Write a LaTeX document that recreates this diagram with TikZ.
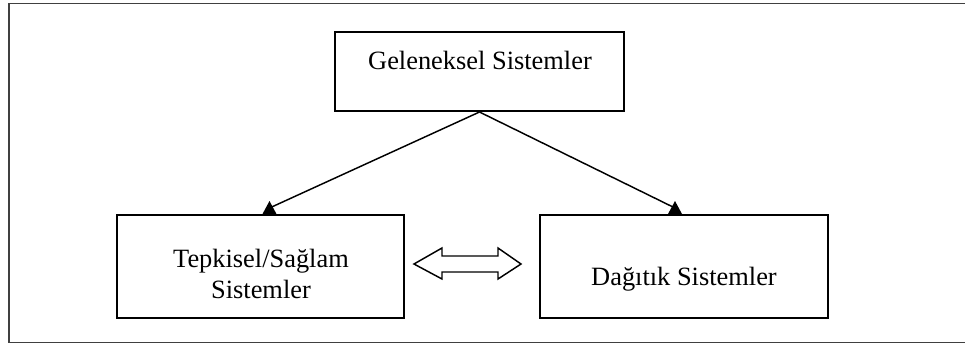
\documentclass[tikz,border=0pt]{standalone}
\usepackage{fontspec}
\setmainfont{Liberation Serif}
\usetikzlibrary{calc}
\begin{document}
\begin{tikzpicture}[x=0.75pt,y=-0.75pt,
  frame/.style={draw=black!75,line width=1.4pt},
  box/.style={draw=black,line width=1.5pt,rectangle,inner sep=0pt},
  lbl/.style={font=\fontsize{19.8}{23.25}\selectfont,inner sep=0pt,align=center},
  link/.style={draw=black,line width=1.1pt},
  head/.style={fill=black},
  twoway/.style={draw=black,line width=1.1pt,fill=white,line join=miter}]
\useasboundingbox (0,0) rectangle (965,344);
% outer frame (right side runs past the page edge)
\draw[frame] (9,3.5) rectangle (970,342.5);

% the three boxes
\node[box,minimum width=216.75pt,minimum height=59.25pt] (top) at (479.5,71.5) {};
\node[box,minimum width=215.25pt,minimum height=77.25pt] (left) at (260.5,266.5) {};
\node[box,minimum width=216pt,minimum height=77.25pt] (right) at (684,266.5) {};

% labels
\node[lbl,anchor=base] (toplbl) at (480,69) {Geleneksel Sistemler};
\node[lbl,anchor=base] (leftlbl1) at (261,267) {Tepkisel/Sağlam};
\node[lbl,anchor=base] (leftlbl2) at (261,298) {Sistemler};
\node[lbl,anchor=base] (rightlbl) at (684,285) {Dağıtık Sistemler};

% connectors from the top box to the two lower boxes
\coordinate (lt) at ($(left.north)+(9,0)$);
\coordinate (rt) at ($(right.north)+(-9,0)$);
\draw[link] (top.south) -- ($(lt)+(0,-6)$);
\draw[link] (top.south) -- ($(rt)+(0,-6)$);
\fill[head] ($(lt)+(0,-13)$) -- ($(lt)+(7,0)$) -- ($(lt)+(-7,0)$) -- cycle;
\fill[head] ($(rt)+(0,-13)$) -- ($(rt)+(7,0)$) -- ($(rt)+(-7,0)$) -- cycle;

% hollow two-way arrow between the lower boxes
\draw[twoway] (414,264) -- (442,248) -- (442,256) -- (498,256) -- (498,248)
  -- (521,264) -- (498,279) -- (498,272) -- (442,272) -- (442,279) -- cycle;
\end{tikzpicture}
\end{document}
